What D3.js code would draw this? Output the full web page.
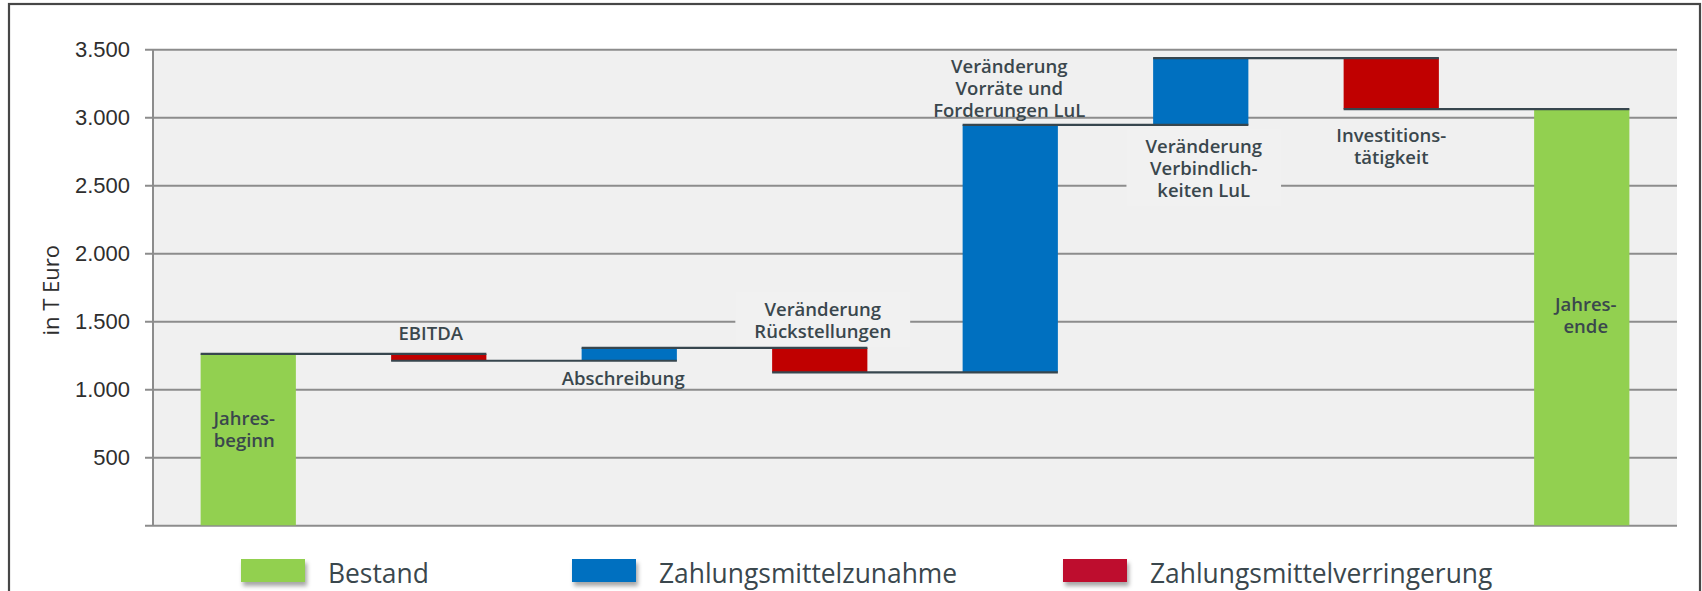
<!DOCTYPE html>
<html>
<head>
<meta charset="utf-8">
<script src="https://cdn.jsdelivr.net/npm/d3@7"></script>
<style>
  body { margin: 0; background: #fff; }
  svg { display: block; font-family: "Open Sans", sans-serif; }
</style>
</head>
<body>
<div id="wrapper"></div>
<script>
// data
const categories = ["Jahresbeginn", "EBITDA", "Abschreibung", "Veränderung Rückstellungen",
  "Veränderung Vorräte und Forderungen LuL", "Veränderung Verbindlichkeiten LuL",
  "Investitionstätigkeit", "Jahresende"];
const kinds = ["total", "delta", "delta", "delta", "delta", "delta", "delta", "total"];
const values = [1260, -50, 95, -180, 1820, 490, -375, 3060];
const labelLines = [["Jahres-", "beginn"], ["EBITDA"], ["Abschreibung"], ["Veränderung", "Rückstellungen"],
  ["Veränderung", "Vorräte und", "Forderungen LuL"], ["Veränderung", "Verbindlich-", "keiten LuL"],
  ["Investitions-", "tätigkeit"], ["Jahres-", "ende"]];
const yTicks = [0, 500, 1000, 1500, 2000, 2500, 3000, 3500];
const legendNames = ["Bestand", "Zahlungsmittelzunahme", "Zahlungsmittelverringerung"];

// label placement (layout only)
const labelPlace = [
  {pos: "inside", off: 71, dx: -4},
  {pos: "above", off: 14, dx: -8},
  {pos: "below", off: 24, dx: -6},
  {pos: "above", off: 10, dx: 3, box: true},
  {pos: "above", off: 8, dx: -1},
  {pos: "below", off: 28, dx: 3, box: true},
  {pos: "below", off: 33, dx: 0},
  {pos: "inside", off: 202, dx: 4}
];

const width = 1702, height = 591;
const plot = {left: 153, right: 1677, top: 49.3, bottom: 525.3};
const lineH = 22;
const textColor = "#3a474d";

const colors = {total: "#92d050", up: "#0070c0", down: "#c00000"};
const legendColors = ["#92d050", "#0070c0", "#be0d2e"];

// running totals
let run = 0;
const steps = values.map((v, i) => {
  let start, end;
  if (kinds[i] === "total") { start = 0; end = v; }
  else { start = run; end = run + v; }
  run = end;
  const type = kinds[i] === "total" ? "total" : (v >= 0 ? "up" : "down");
  return {name: categories[i], start: start, end: end, level: end, type: type, i: i};
});

const x = d3.scaleBand()
  .domain(categories)
  .range([plot.left, plot.right])
  .paddingInner(0.5)
  .paddingOuter(0.25);

const y = d3.scaleLinear()
  .domain([0, 3500])
  .range([plot.bottom, plot.top]);

const de = d3.formatLocale({decimal: ",", thousands: ".", grouping: [3], currency: ["", " €"]});
const fmt = de.format(",");

const svg = d3.select("#wrapper")
  .append("svg")
  .attr("width", width)
  .attr("height", height);

const defs = svg.append("defs");
defs.append("filter")
  .attr("id", "shadow")
  .attr("x", "-20%").attr("y", "-30%")
  .attr("width", "150%").attr("height", "180%")
  .append("feDropShadow")
  .attr("dx", 2).attr("dy", 4)
  .attr("stdDeviation", 2)
  .attr("flood-color", "#000")
  .attr("flood-opacity", 0.35);

// outer frame
svg.append("rect")
  .attr("x", 9).attr("y", 4)
  .attr("width", 1691).attr("height", 700)
  .attr("fill", "none")
  .attr("stroke", "#474747")
  .attr("stroke-width", 2.2);

// plot background
svg.append("rect")
  .attr("x", plot.left).attr("y", plot.top)
  .attr("width", plot.right - plot.left)
  .attr("height", plot.bottom - plot.top)
  .attr("fill", "#f0f0f0");

// y axis with gridlines
const tickX = 145;
const yAxis = d3.axisLeft(y)
  .tickValues(yTicks)
  .tickSize(-(plot.right - tickX))
  .tickPadding(15)
  .tickFormat(d => d === 0 ? "" : fmt(d));

const gAxis = svg.append("g")
  .attr("transform", `translate(${tickX},0)`)
  .call(yAxis);
gAxis.select(".domain").remove();
gAxis.selectAll(".tick line")
  .attr("stroke", "#8c8c8c")
  .attr("stroke-width", 2);
gAxis.selectAll(".tick text")
  .attr("fill", "#2e2e2e")
  .style("font-size", "22px");

// vertical axis line
svg.append("line")
  .attr("x1", plot.left).attr("x2", plot.left)
  .attr("y1", plot.top).attr("y2", plot.bottom)
  .attr("stroke", "#8c8c8c")
  .attr("stroke-width", 2);

// axis title
svg.append("text")
  .attr("transform", `translate(59,${(plot.top + plot.bottom) / 2 + 3}) rotate(-90)`)
  .attr("text-anchor", "middle")
  .attr("fill", "#2e2e2e")
  .style("font-size", "22px")
  .text("in T Euro");

// label background boxes (drawn before bars, cover gridlines)
const boxLayer = svg.append("g");

// bars
svg.append("g").selectAll("rect.bar")
  .data(steps)
  .enter()
  .append("rect")
  .attr("class", "bar")
  .attr("x", d => x(d.name))
  .attr("width", x.bandwidth())
  .attr("y", d => y(Math.max(d.start, d.end)))
  .attr("height", d => Math.abs(y(d.start) - y(d.end)))
  .attr("fill", d => colors[d.type]);

// connectors
svg.append("g").selectAll("line.link")
  .data(steps.slice(0, -1))
  .enter()
  .append("line")
  .attr("class", "link")
  .attr("x1", d => x(d.name))
  .attr("x2", d => x(categories[d.i + 1]) + x.bandwidth())
  .attr("y1", d => y(d.level))
  .attr("y2", d => y(d.level))
  .attr("stroke", "#37464e")
  .attr("stroke-width", 2.2);

// labels
const labelG = svg.append("g")
  .style("font-size", "18.5px")
  .style("font-weight", 600)
  .attr("fill", textColor)
  .attr("text-anchor", "middle");

steps.forEach((d, i) => {
  const p = labelPlace[i];
  const lines = labelLines[i];
  const cx = x(d.name) + x.bandwidth() / 2 + p.dx;
  const top = y(Math.max(d.start, d.end));
  const bottom = y(Math.min(d.start, d.end));
  let first;
  if (p.pos === "inside") first = top + p.off;
  else if (p.pos === "above") first = top - p.off - (lines.length - 1) * lineH;
  else first = bottom + p.off;

  const t = labelG.append("text")
    .attr("x", cx)
    .attr("y", first);
  lines.forEach((ln, k) => {
    t.append("tspan")
      .attr("x", cx)
      .attr("dy", k === 0 ? 0 : lineH)
      .text(ln);
  });

  if (p.box) {
    const bb = t.node().getBBox();
    boxLayer.append("rect")
      .attr("x", bb.x - 19)
      .attr("y", bb.y - 4)
      .attr("width", bb.width + 38)
      .attr("height", bb.height + 8)
      .attr("fill", "#f1f1f1");
  }
});

// legend
const legendX = [241, 572, 1063];
const legend = svg.append("g").selectAll("g.legend")
  .data(legendNames)
  .enter()
  .append("g")
  .attr("class", "legend")
  .attr("transform", (d, i) => `translate(${legendX[i]},559)`);
legend.append("rect")
  .attr("width", 64)
  .attr("height", 23)
  .attr("fill", (d, i) => legendColors[i])
  .attr("filter", "url(#shadow)");
legend.append("text")
  .attr("x", 87)
  .attr("y", 24)
  .attr("fill", textColor)
  .style("font-size", "26.4px")
  .text(d => d);
</script>
</body>
</html>
